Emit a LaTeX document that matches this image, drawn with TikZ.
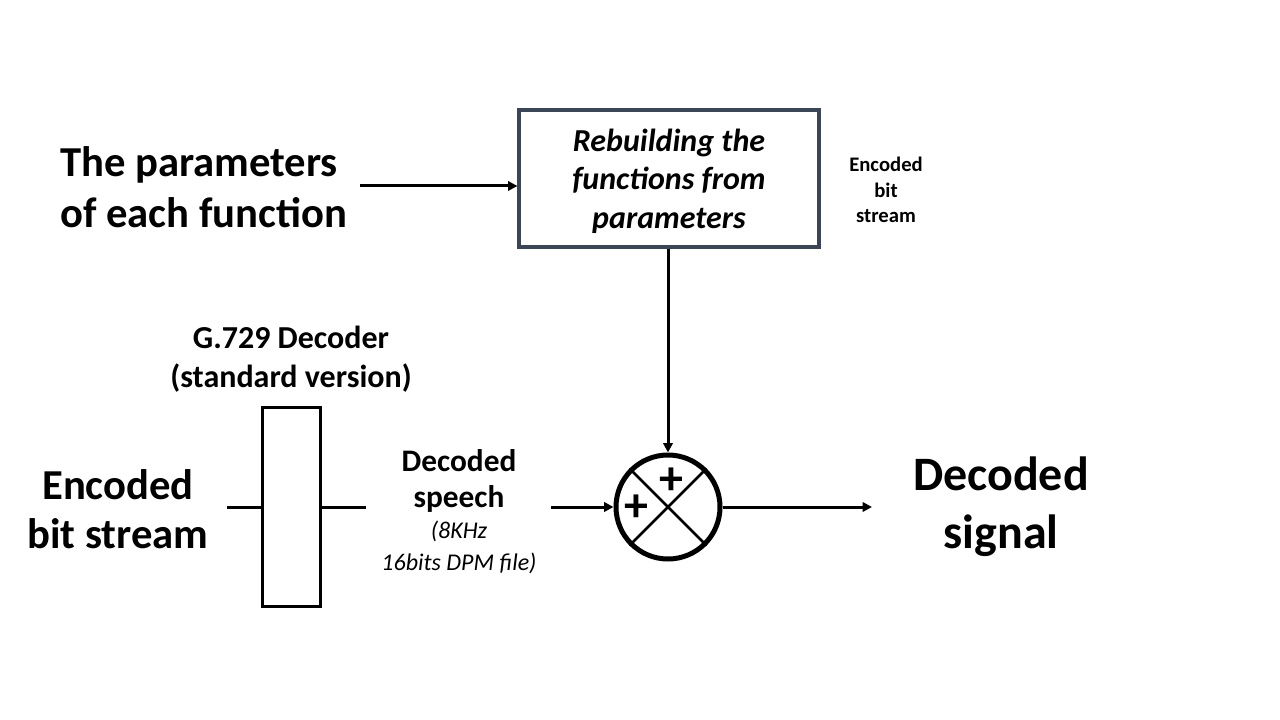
\documentclass[tikz,border=0pt]{standalone}
\usepackage{fontspec}
\setmainfont{Carlito}
\usetikzlibrary{arrows.meta}
\definecolor{slate}{HTML}{3A4556}
\tikzset{
  conn/.style={line width=2.25pt, black},
  arr/.style={conn, -{Triangle[length=7pt,width=7pt]}},
  lbl/.style={align=center, font=\bfseries, inner sep=0pt},
}
\begin{document}
\begin{tikzpicture}[x=0.75pt,y=-0.75pt]
\useasboundingbox (0,0) rectangle (1280,720);
% top box
\node[draw=slate, line width=2.4pt, minimum width=225pt, minimum height=102.75pt, inner sep=0pt] (rb) at (669,178.5) {};
\node[align=center, inner sep=0pt, font=\fontsize{24}{29}\selectfont\bfseries\itshape] (rbt) at (669,181)
  {Rebuilding the\\functions from\\parameters};
\node[lbl, align=left, anchor=west, font=\fontsize{32}{38.5}\selectfont\bfseries] (par) at (60,187) {The parameters\\of each function};
\coordinate (pe) at (360,186);
\draw[arr] (pe) -- (rb.west |- pe);
\node[lbl, font=\fontsize{15.5}{19}\selectfont\bfseries] (ebs1) at (886,190) {Encoded\\bit\\stream};
% decoder
\node[draw, line width=2.25pt, minimum width=43.5pt, minimum height=149.25pt, inner sep=0pt] (dec) at (291,506.5) {};
\node[lbl, font=\fontsize{24}{29}\selectfont\bfseries] (g729) at (291,359.5) {G.729 Decoder\\(standard version)};
\node[lbl, font=\fontsize{32}{37}\selectfont\bfseries] (ebs) at (118,509) {Encoded\\bit stream};
\coordinate (in1) at (227,507);
\coordinate (out1) at (366,507);
\draw[conn] (in1) -- (dec.west |- in1);
\draw[conn] (dec.east |- out1) -- (out1);
\node[lbl, font=\fontsize{23.5}{27.5}\selectfont\bfseries] (ds) at (459,481) {Decoded\\speech};
\node[lbl, font=\fontsize{18}{24}\selectfont\itshape] (dsi) at (459,547) {(8KHz\\16bits DPM file)};
% summing junction
\node[circle, draw, line width=3.75pt, minimum size=78pt, inner sep=0pt] (sum) at (668,507) {};
\draw[line width=2pt] (sum.45) -- (sum.225);
\draw[line width=2pt] (sum.135) -- (sum.315);
\node[inner sep=0pt, font=\fontsize{36}{36}\selectfont\bfseries] (p1) at (671,481) {+};
\node[inner sep=0pt, font=\fontsize{36}{36}\selectfont\bfseries] (p2) at (636,508) {+};
\coordinate (sin) at (551,507);
\draw[arr] (sin) -- (sum.west);
\draw[arr] (rb.south -| sum) -- (sum.north);
\coordinate (sout) at (872,507);
\draw[arr] (sum.east) -- (sout);
\node[lbl, font=\fontsize{36}{43.5}\selectfont\bfseries] (dsig) at (1001,507) {Decoded\\signal};
\end{tikzpicture}
\end{document}
